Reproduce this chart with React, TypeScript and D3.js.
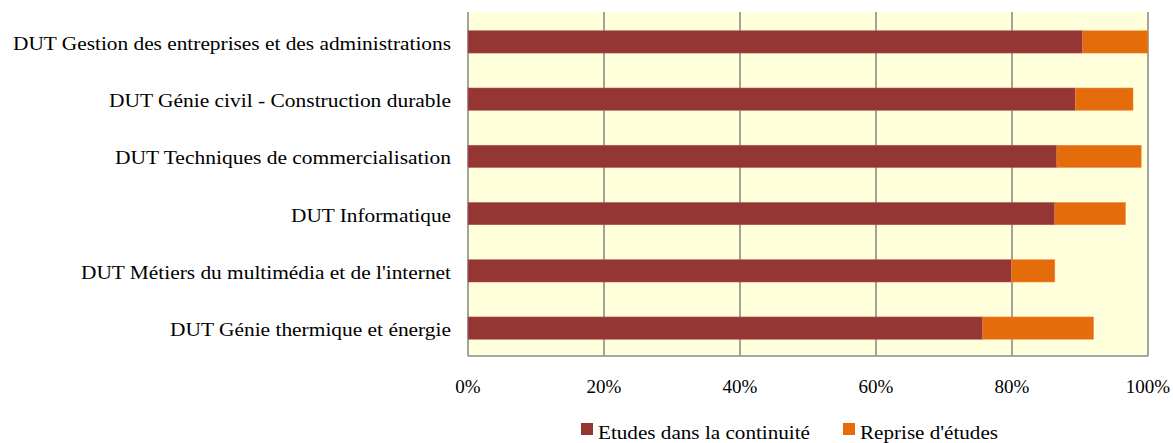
import React from "react";
import * as d3 from "d3";

const categories = [
  "DUT Gestion des entreprises et des administrations",
  "DUT Génie civil - Construction durable",
  "DUT Techniques de commercialisation",
  "DUT Informatique",
  "DUT Métiers du multimédia et de l'internet",
  "DUT Génie thermique et énergie",
];
const continuite = [90.4, 89.3, 86.6, 86.3, 79.9, 75.7];
const reprise = [9.6, 8.5, 12.4, 10.4, 6.4, 16.3];
const seriesNames = ["Etudes dans la continuité", "Reprise d'études"];
const seriesColors = ["#943634", "#E46C0A"];
const ticks = [0, 20, 40, 60, 80, 100];

const labelWidths = [438, 342, 336, 160, 370, 281];
const legendWidths = [212, 138];

const W = 1173;
const H = 443;
const left = 468;
const right = 1148;
const top = 12;
const bottom = 356;
const font = "'Liberation Serif', 'Times New Roman', Times, serif";

export default function App() {
  const x = d3.scaleLinear().domain([0, 100]).range([left, right]);
  const y = d3
    .scaleBand<string>()
    .domain(categories)
    .range([top + 1, bottom + 1])
    .paddingInner(0.61)
    .paddingOuter(0.31);
  const bh = y.bandwidth();
  const ts = { fontFamily: font };
  return (
    <svg
      width={W}
      height={H}
      style={{ position: "absolute", left: 0, top: 0 }}
    >
      <rect x={left} y={top} width={right - left} height={bottom - top} fill="#FFFFDC" />
      {ticks.map((t) => (
        <line
          key={"g" + t}
          x1={x(t)}
          x2={x(t)}
          y1={top}
          y2={bottom}
          stroke="#8C8C8C"
          strokeWidth={1.6}
        />
      ))}
      <line x1={left} x2={right} y1={bottom} y2={bottom} stroke="#8C8C8C" strokeWidth={1.6} />
      {categories.map((c, i) => {
        const yy = y(c)!;
        return (
          <g key={c}>
            <rect
              x={x(0)}
              y={yy}
              width={x(continuite[i]) - x(0)}
              height={bh}
              fill={seriesColors[0]}
              stroke="#B85A58"
              strokeWidth={0.5}
            />
            <rect
              x={x(continuite[i])}
              y={yy}
              width={x(continuite[i] + reprise[i]) - x(continuite[i])}
              height={bh}
              fill={seriesColors[1]}
              stroke="#F09050"
              strokeWidth={0.5}
            />
            <text
              x={451}
              y={yy + bh / 2 + 8}
              textAnchor="end"
              fontSize={19}
              fill="#000"
              style={ts}
              textLength={labelWidths[i]}
              lengthAdjust="spacingAndGlyphs"
            >
              {c}
            </text>
          </g>
        );
      })}
      {ticks.map((t) => (
        <text
          key={"t" + t}
          x={x(t)}
          y={393}
          textAnchor="middle"
          fontSize={19}
          fill="#000"
          style={ts}
        >
          {t + "%"}
        </text>
      ))}
      {seriesNames.map((s, i) => {
        const lx = i === 0 ? 581 : 843;
        return (
          <g key={s}>
            <rect x={lx} y={423} width={12} height={12} fill={seriesColors[i]} />
            <text
              x={lx + 17}
              y={439}
              fontSize={19}
              fill="#000"
              style={ts}
              textLength={legendWidths[i]}
              lengthAdjust="spacingAndGlyphs"
            >
              {s}
            </text>
          </g>
        );
      })}
    </svg>
  );
}
